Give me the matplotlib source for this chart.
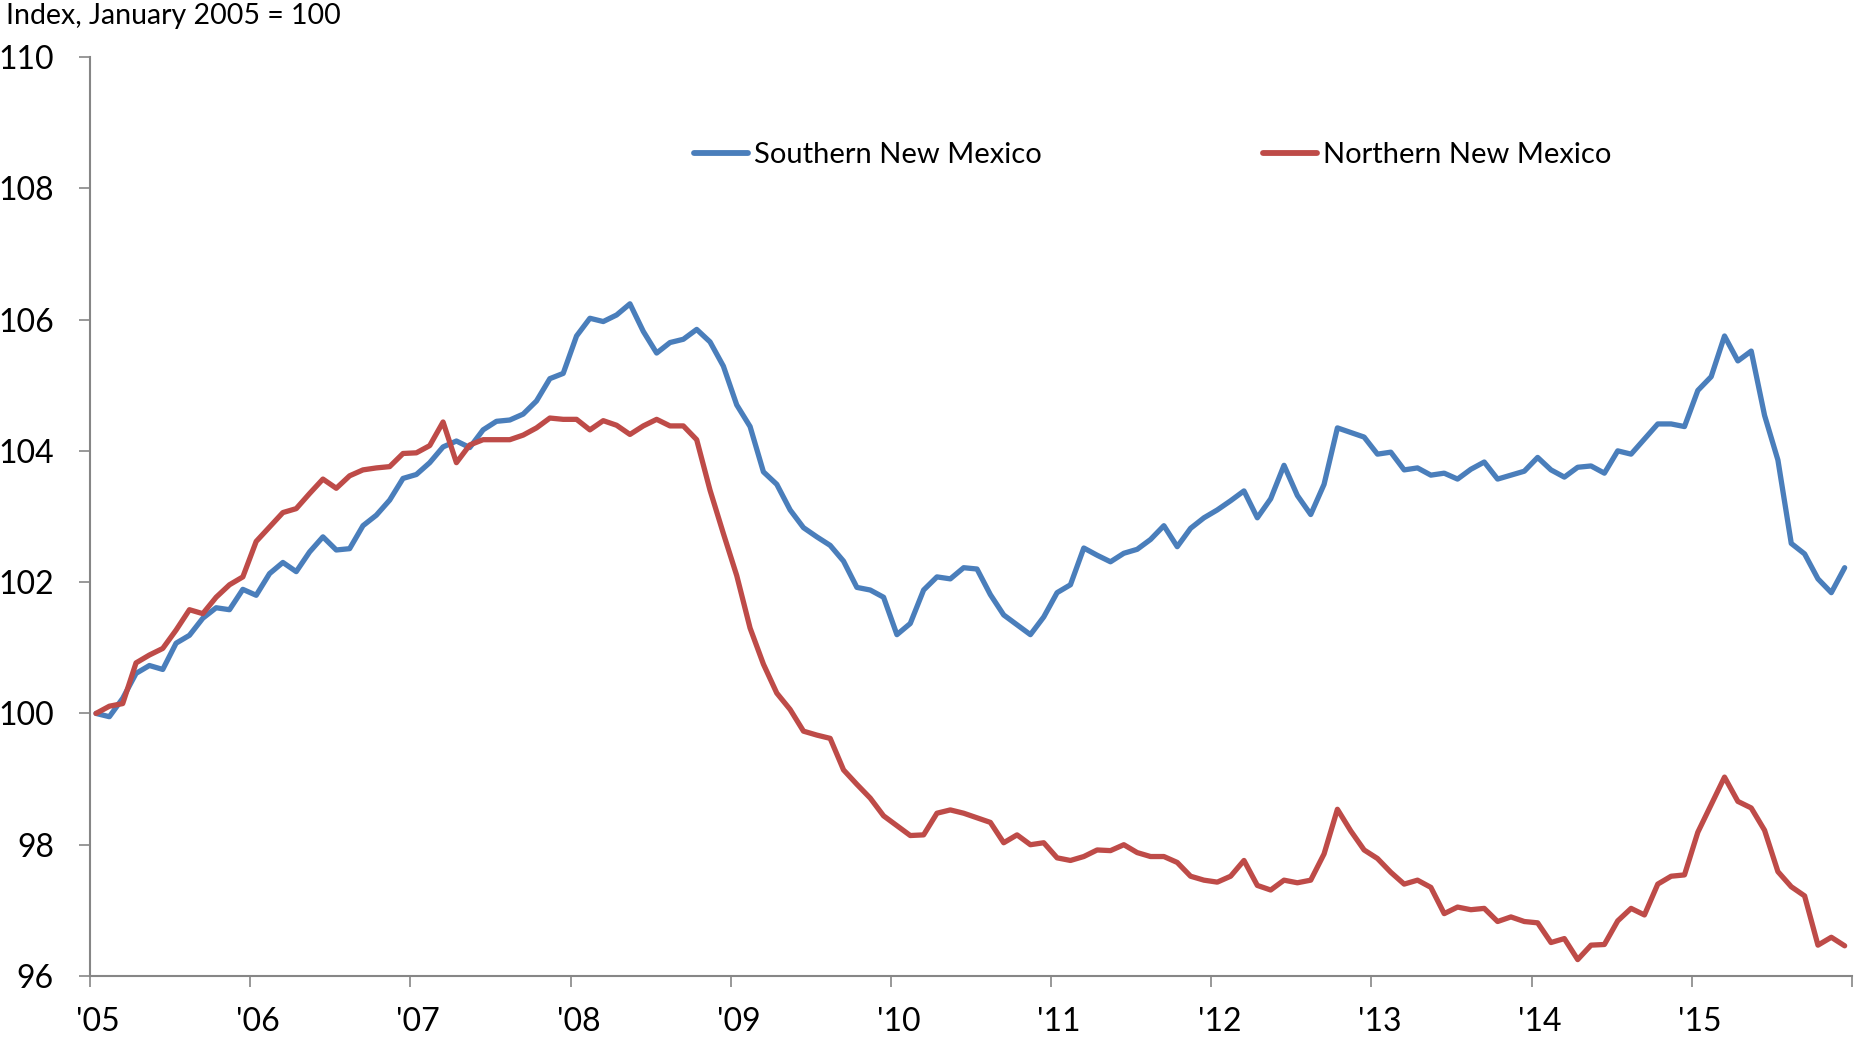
import numpy as np
import matplotlib
matplotlib.use("Agg")
import matplotlib.pyplot as plt

# monthly index, Jan 2005 .. Dec 2015 (Jan 2005 = 100)
southern = [
    100.00, 99.95, 100.23, 100.61, 100.73, 100.67, 101.07, 101.19, 101.45, 101.61, 101.58, 101.89,  # 2005
    101.80, 102.13, 102.30, 102.16, 102.46, 102.69, 102.49, 102.51, 102.86, 103.02, 103.25, 103.58,  # 2006
    103.64, 103.82, 104.06, 104.15, 104.05, 104.32, 104.45, 104.47, 104.56, 104.76, 105.10, 105.18,  # 2007
    105.75, 106.02, 105.97, 106.07, 106.24, 105.82, 105.49, 105.65, 105.70, 105.85, 105.66, 105.29,  # 2008
    104.70, 104.37, 103.68, 103.49, 103.10, 102.83, 102.69, 102.56, 102.32, 101.92, 101.88, 101.77,  # 2009
    101.20, 101.37, 101.88, 102.08, 102.05, 102.22, 102.20, 101.81, 101.50, 101.35, 101.20, 101.47,  # 2010
    101.84, 101.96, 102.52, 102.41, 102.31, 102.44, 102.50, 102.65, 102.86, 102.54, 102.82, 102.98,  # 2011
    103.10, 103.24, 103.39, 102.98, 103.27, 103.78, 103.32, 103.03, 103.49, 104.35, 104.28, 104.21,  # 2012
    103.95, 103.98, 103.71, 103.74, 103.63, 103.66, 103.57, 103.72, 103.83, 103.57, 103.63, 103.69,  # 2013
    103.90, 103.71, 103.60, 103.75, 103.77, 103.66, 104.00, 103.95, 104.18, 104.41, 104.41, 104.37,  # 2014
    104.92, 105.13, 105.75, 105.37, 105.52, 104.54, 103.86, 102.59, 102.43, 102.05, 101.84, 102.22,  # 2015
]
northern = [
    100.00, 100.11, 100.15, 100.77, 100.89, 100.99, 101.27, 101.58, 101.52, 101.77, 101.96, 102.08,
    102.62, 102.84, 103.06, 103.12, 103.35, 103.57, 103.43, 103.62, 103.71, 103.74, 103.76, 103.96,
    103.97, 104.08, 104.44, 103.82, 104.09, 104.17, 104.17, 104.17, 104.24, 104.35, 104.50, 104.48,
    104.48, 104.32, 104.46, 104.39, 104.25, 104.38, 104.48, 104.38, 104.38, 104.17, 103.40, 102.74,
    102.10, 101.30, 100.75, 100.31, 100.06, 99.73, 99.67, 99.62, 99.14, 98.92, 98.71, 98.44,
    98.29, 98.14, 98.15, 98.48, 98.53, 98.48, 98.41, 98.34, 98.03, 98.15, 98.00, 98.03,
    97.80, 97.76, 97.82, 97.92, 97.91, 98.00, 97.88, 97.82, 97.82, 97.73, 97.52, 97.46,
    97.43, 97.52, 97.76, 97.38, 97.31, 97.46, 97.42, 97.46, 97.86, 98.54, 98.21, 97.92,
    97.79, 97.58, 97.40, 97.46, 97.35, 96.95, 97.05, 97.01, 97.03, 96.83, 96.90, 96.83,
    96.81, 96.51, 96.57, 96.25, 96.47, 96.48, 96.84, 97.03, 96.93, 97.40, 97.52, 97.54,
    98.19, 98.61, 99.03, 98.66, 98.56, 98.22, 97.59, 97.36, 97.22, 96.47, 96.59, 96.46,
]
year_labels = ["'05", "'06", "'07", "'08", "'09", "'10", "'11", "'12", "'13", "'14", "'15"]
y_ticks = [96, 98, 100, 102, 104, 106, 108, 110]

plt.rcParams['font.family'] = ['Lato', 'DejaVu Sans']

fig = plt.figure(figsize=(18.54, 10.44), dpi=100)
ax = fig.add_axes([90 / 1854, 1 - 976 / 1044, 1762 / 1854, 919 / 1044])

# months, points sit a bit right of the year tick
x = np.arange(len(southern)) + 0.45
ax.plot(x, southern, color='#4A7EBB', lw=3.8, label='Southern New Mexico',
        solid_joinstyle='round', solid_capstyle='round')
ax.plot(x, northern, color='#BE4B48', lw=3.8, label='Northern New Mexico',
        solid_joinstyle='round', solid_capstyle='round')

ax.set_xlim(0, 132)
ax.set_ylim(96, 110)

gray = '#868686'
for side in ['top', 'right']:
    ax.spines[side].set_visible(False)
for side in ['left', 'bottom']:
    ax.spines[side].set_color(gray)
    ax.spines[side].set_linewidth(1.5)

ax.set_yticks(y_ticks)
ax.set_yticklabels([str(v) for v in y_ticks])
ax.tick_params(axis='y', direction='out', length=8, width=1.2, color=gray,
               labelsize=23, pad=18, labelcolor='black')

# year boundaries as major ticks, labels on minor ticks
ax.set_xticks(np.arange(0, 133, 12))
ax.set_xticklabels([])
ax.set_xticks(np.arange(0, 121, 12) + 0.6, minor=True)
ax.set_xticklabels(year_labels, minor=True)
ax.tick_params(axis='x', which='major', direction='out', length=8, width=1.2, color=gray)
ax.tick_params(axis='x', which='minor', length=0, labelsize=23, pad=22)

leg = ax.legend(loc='center', bbox_to_anchor=(0.603, 0.893), ncol=2, frameon=False,
                fontsize=21, handlelength=1.85, handletextpad=0.2, columnspacing=7.6)
for line in leg.get_lines():
    line.set_linewidth(4.2)

fig.text(0.003, 1 - 16 / 1044, 'Index, January 2005 = 100', fontsize=20.5, va='center', ha='left')

fig.savefig('out.png', dpi=100)
